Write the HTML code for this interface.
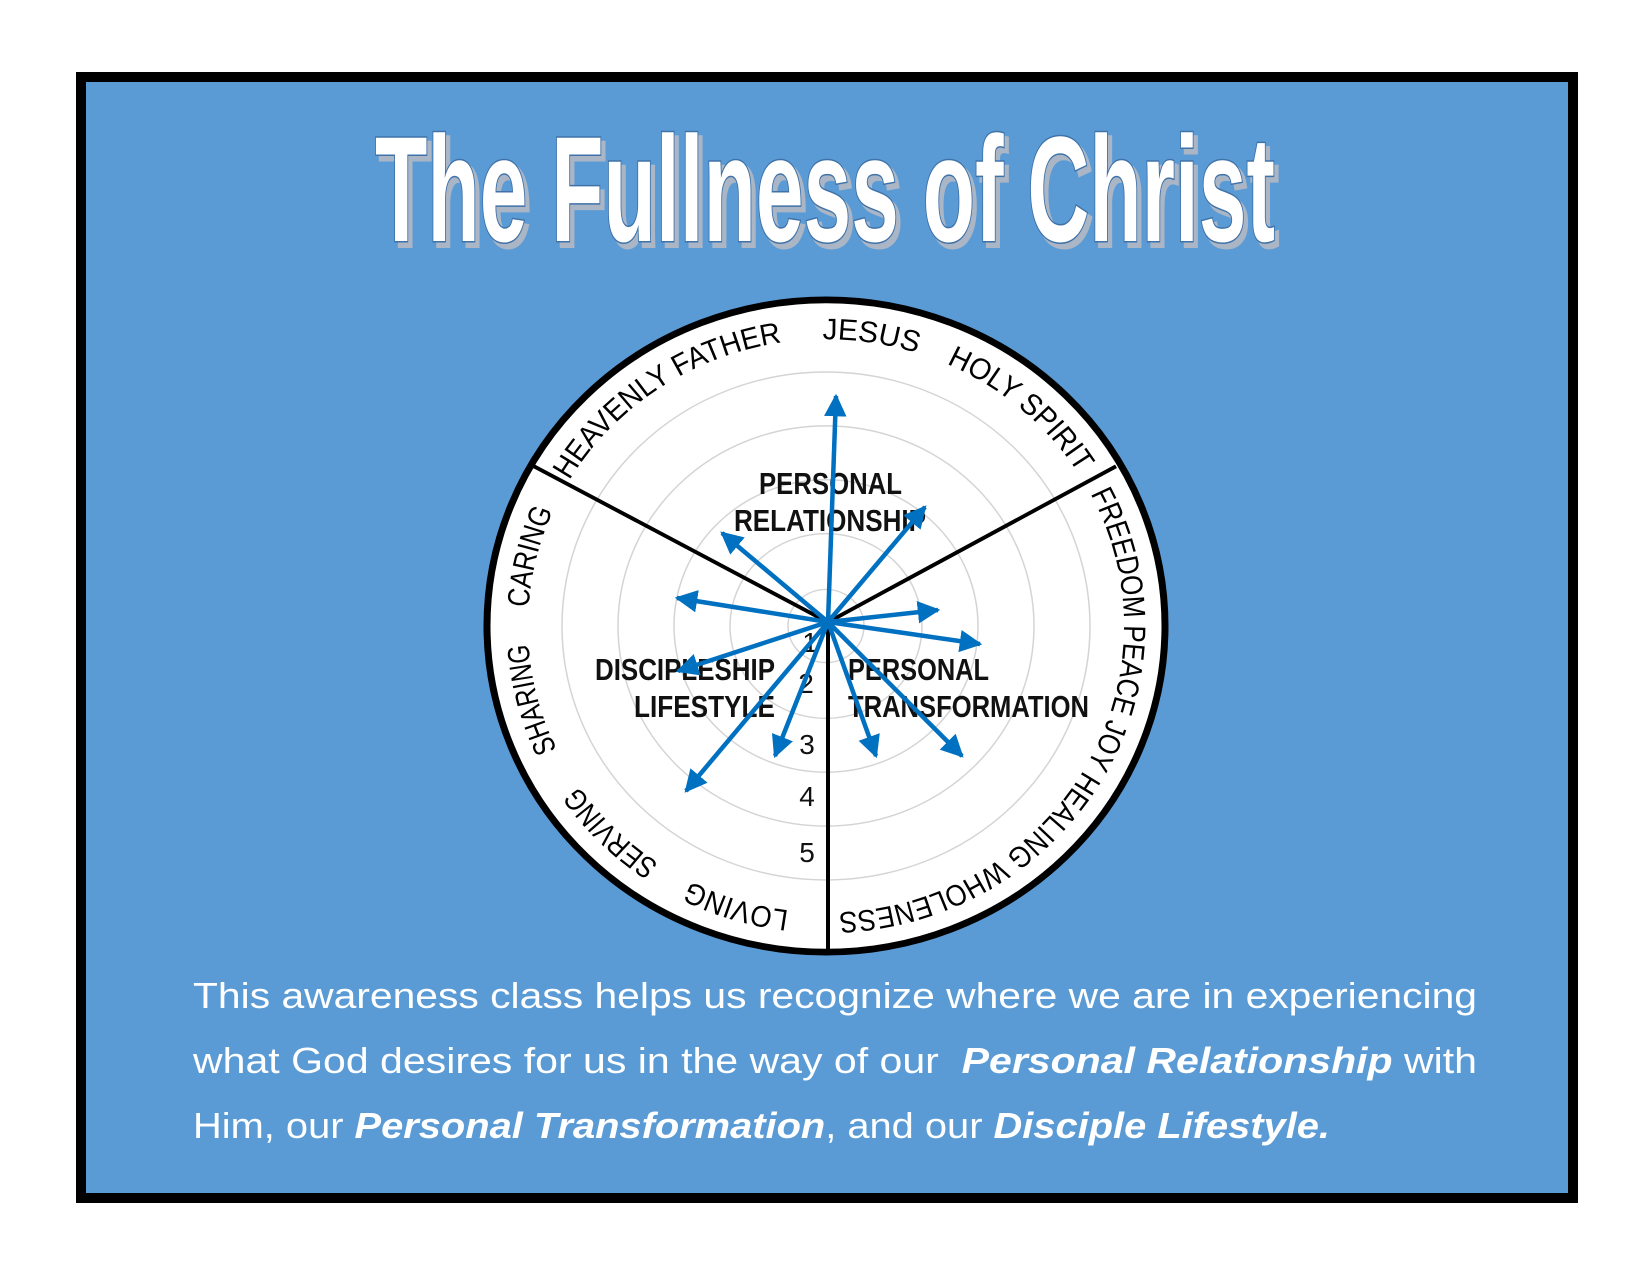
<!DOCTYPE html>
<html><head><meta charset="utf-8"><style>
html,body{margin:0;padding:0;background:#fff}
svg{display:block}
</style></head><body>
<svg width="1650" height="1275" viewBox="0 0 1650 1275" xmlns="http://www.w3.org/2000/svg">
<rect x="0" y="0" width="1650" height="1275" fill="#fff"/>
<rect x="81" y="77" width="1492" height="1121" fill="#5b9bd5" stroke="#000" stroke-width="10"/>
<!-- title -->
<g font-family="'Liberation Sans Narrow','Liberation Sans',sans-serif" font-weight="bold" font-size="150">
<text x="379" y="246" textLength="900" lengthAdjust="spacingAndGlyphs" fill="#aab6c6" stroke="#aab6c6" stroke-width="4">The Fullness of Christ</text>
<text x="375" y="241" textLength="900" lengthAdjust="spacingAndGlyphs" fill="#fff" stroke="#3f72a8" stroke-width="3" paint-order="stroke">The Fullness of Christ</text>
</g>
<!-- wheel -->
<g transform="translate(826,626) scale(1,0.962)">
<circle r="339" fill="#fff" stroke="#000" stroke-width="7"/>
<g fill="none" stroke="#d4d4d4" stroke-width="1.5">
<circle r="38"/><circle r="96"/><circle r="152"/><circle r="208"/><circle r="264"/>
</g>
<g stroke="#000" stroke-width="4">
<line x1="2" y1="-4" x2="2" y2="339"/>
<line x1="2" y1="-4" x2="-292" y2="-166"/>
<line x1="2" y1="-4" x2="290" y2="-166"/>
</g>
<path id="rim" d="M0,-298 A298,298 0 1 1 0,298 A298,298 0 1 1 0,-298" fill="none"/>
<g font-family="'Liberation Sans',sans-serif" font-size="31" fill="#000" text-anchor="middle">
<text><textPath href="#rim" startOffset="44.5" textLength="96" lengthAdjust="spacingAndGlyphs">JESUS</textPath></text>
<text><textPath href="#rim" startOffset="1695" textLength="265" lengthAdjust="spacingAndGlyphs">HEAVENLY FATHER</textPath></text>
<text><textPath href="#rim" startOffset="212" textLength="176" lengthAdjust="spacingAndGlyphs">HOLY SPIRIT</textPath></text>
<text><textPath href="#rim" startOffset="624" textLength="598" lengthAdjust="spacingAndGlyphs">FREEDOM PEACE JOY HEALING WHOLENESS</textPath></text>
<text><textPath href="#rim" startOffset="1025" textLength="104" lengthAdjust="spacingAndGlyphs">LOVING</textPath></text>
<text><textPath href="#rim" startOffset="1170" textLength="114" lengthAdjust="spacingAndGlyphs">SERVING</textPath></text>
<text><textPath href="#rim" startOffset="1328" textLength="114" lengthAdjust="spacingAndGlyphs">SHARING</textPath></text>
<text><textPath href="#rim" startOffset="1475" textLength="104" lengthAdjust="spacingAndGlyphs">CARING</textPath></text>
</g>
</g>
<!-- sector labels -->
<g font-family="'Liberation Sans Narrow','Liberation Sans',sans-serif" font-weight="bold" font-size="31" fill="#111">
<text x="759" y="494" textLength="143" lengthAdjust="spacingAndGlyphs">PERSONAL</text>
<text x="734" y="531" textLength="192" lengthAdjust="spacingAndGlyphs">RELATIONSHIP</text>
<text x="595" y="680" textLength="180" lengthAdjust="spacingAndGlyphs">DISCIPLESHIP</text>
<text x="634" y="717" textLength="141" lengthAdjust="spacingAndGlyphs">LIFESTYLE</text>
<text x="848" y="680" textLength="141" lengthAdjust="spacingAndGlyphs">PERSONAL</text>
<text x="848" y="717" textLength="241" lengthAdjust="spacingAndGlyphs">TRANSFORMATION</text>
</g>
<g font-family="'Liberation Sans',sans-serif" font-size="28" fill="#111" text-anchor="middle">
<text x="810" y="652">1</text>
<text x="806" y="693">2</text>
<text x="807" y="754">3</text>
<text x="807" y="806">4</text>
<text x="807" y="862">5</text>
</g>
<!-- arrows -->
<defs><marker id="ah" viewBox="0 0 10 10" refX="9" refY="5" markerWidth="5" markerHeight="5" orient="auto"><path d="M0,0 L10,5 L0,10 z" fill="#0070c0"/></marker></defs>
<g stroke="#0070c0" stroke-width="4.5" marker-end="url(#ah)" fill="none">
<line x1="828" y1="622" x2="836" y2="396"/>
<line x1="828" y1="622" x2="925" y2="507"/>
<line x1="828" y1="622" x2="722" y2="533"/>
<line x1="828" y1="622" x2="677" y2="598"/>
<line x1="828" y1="622" x2="938" y2="610"/>
<line x1="828" y1="622" x2="980" y2="644"/>
<line x1="828" y1="622" x2="678" y2="671"/>
<line x1="828" y1="622" x2="686" y2="791"/>
<line x1="828" y1="622" x2="775" y2="756"/>
<line x1="828" y1="622" x2="876" y2="756"/>
<line x1="828" y1="622" x2="962" y2="756"/>
</g>
<!-- paragraph -->
<g font-family="'Liberation Sans',sans-serif" font-size="36" fill="#fff">
<text x="193" y="1008" textLength="1284" lengthAdjust="spacingAndGlyphs">This awareness class helps us recognize where we are in experiencing</text>
<text x="193" y="1073" textLength="1284" lengthAdjust="spacingAndGlyphs" xml:space="preserve">what God desires for us in the way of our  <tspan font-weight="bold" font-style="italic">Personal Relationship</tspan> with</text>
<text x="193" y="1138" textLength="1137" lengthAdjust="spacingAndGlyphs">Him, our <tspan font-weight="bold" font-style="italic">Personal Transformation</tspan>, and our <tspan font-weight="bold" font-style="italic">Disciple Lifestyle.</tspan></text>
</g>
</svg>
</body></html>
